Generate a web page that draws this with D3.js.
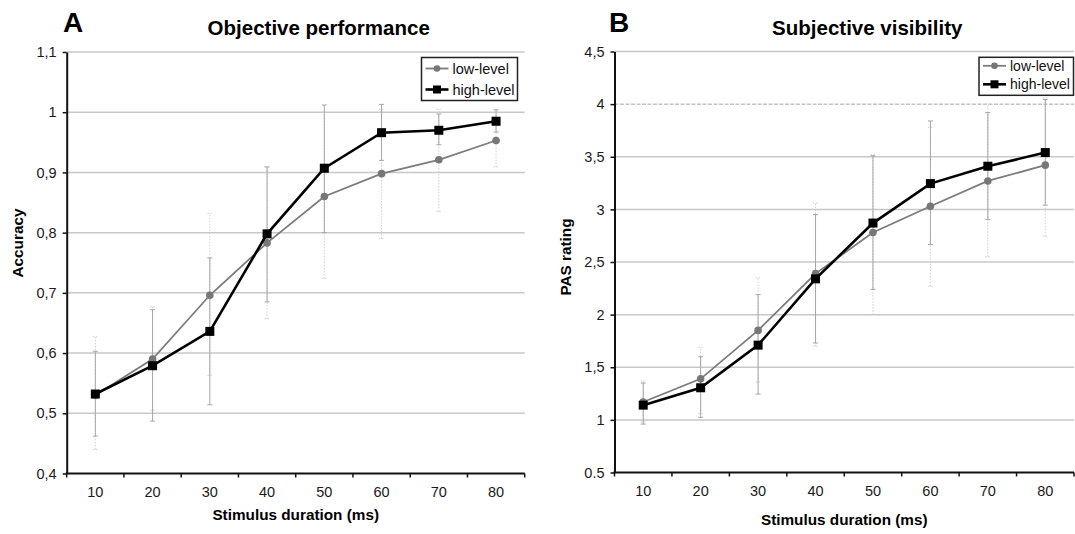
<!DOCTYPE html>
<html>
<head>
<meta charset="utf-8">
<script src="https://cdn.jsdelivr.net/npm/d3@7"></script>
<style>
  body { margin: 0; background: #fff; }
  svg { display: block; font-family: "Liberation Sans", Arial, sans-serif; }
</style>
</head>
<body>
<script>
// stimulus durations (ms)
var durations = [10, 20, 30, 40, 50, 60, 70, 80];

// panel A: accuracy
var accLow    = [0.530, 0.590, 0.696, 0.783, 0.860, 0.898, 0.921, 0.953];
var accLowLo  = [0.440, 0.505, 0.563, 0.657, 0.724, 0.790, 0.835, 0.909];
var accLowHi  = [0.627, 0.677, 0.832, 0.910, 1.000, 1.005, 1.005, 1.000];
var accHigh   = [0.532, 0.579, 0.636, 0.798, 0.907, 0.966, 0.970, 0.985];
var accHighLo = [0.462, 0.487, 0.514, 0.685, 0.800, 0.920, 0.946, 0.967];
var accHighHi = [0.603, 0.672, 0.758, 0.909, 1.012, 1.013, 0.997, 1.004];
var accTicks  = [0.4, 0.5, 0.6, 0.7, 0.8, 0.9, 1.0, 1.1];
var accLabels = ["0,4", "0,5", "0,6", "0,7", "0,8", "0,9", "1", "1,1"];

// panel B: PAS rating
var pasLow    = [1.17, 1.39, 1.85, 2.39, 2.78, 3.03, 3.27, 3.42];
var pasLowLo  = [0.98, 1.06, 1.36, 1.70, 2.00, 2.27, 2.55, 2.745];
var pasLowHi  = [1.37, 1.69, 2.35, 3.06, 3.52, 3.78, 4.00, 4.06];
var pasHigh   = [1.14, 1.305, 1.71, 2.34, 2.87, 3.245, 3.41, 3.54];
var pasHighLo = [0.96, 1.025, 1.245, 1.73, 2.24, 2.665, 2.905, 3.04];
var pasHighHi = [1.35, 1.60, 2.19, 2.95, 3.51, 3.84, 3.92, 4.045];
var pasTicks  = [0.5, 1, 1.5, 2, 2.5, 3, 3.5, 4, 4.5];
var pasLabels = ["0.5", "1", "1,5", "2", "2,5", "3", "3,5", "4", "4,5"];

var seriesNames = ["low-level", "high-level"];

var svg = d3.select("body").append("svg")
    .attr("width", 1075)
    .attr("height", 534);

function drawPanel(opt) {
    var g = svg.append("g");

    var x = d3.scaleBand()
        .domain(durations)
        .range([opt.left, opt.right])
        .padding(0);
    var y = d3.scaleLinear()
        .domain([opt.ticks[0], opt.ticks[opt.ticks.length - 1]])
        .range([opt.bottom, opt.top]);
    var cx = function(d) { return x(d) + x.bandwidth() / 2; };

    // gridlines
    g.append("g").selectAll("line")
        .data(opt.ticks.slice(1))
        .enter().append("line")
        .attr("x1", opt.left).attr("x2", opt.right)
        .attr("y1", function(d) { return y(d); })
        .attr("y2", function(d) { return y(d); })
        .attr("stroke", function(d) { return d === opt.dottedGrid ? "#c4c4c4" : "#c8c8c8"; })
        .attr("stroke-width", 1.5)
        .attr("stroke-dasharray", function(d) { return d === opt.dottedGrid ? "4,1.5" : null; });

    // y axis
    var yAxis = d3.axisLeft(y)
        .tickValues(opt.ticks)
        .tickFormat(function(d, i) { return opt.labels[i]; })
        .tickSizeInner(4)
        .tickSizeOuter(0)
        .tickPadding(6);
    var ya = g.append("g")
        .attr("transform", "translate(" + opt.left + ",0)")
        .call(yAxis);
    ya.select(".domain").attr("stroke", "#111").attr("stroke-width", 2);
    ya.selectAll(".tick line").attr("stroke", "#111").attr("stroke-width", 1.5);
    ya.selectAll("text").attr("font-size", 14.5).attr("fill", "#1a1a1a");

    // x axis: labels at band centres, ticks at band edges
    var xAxis = d3.axisBottom(x).tickSize(0).tickPadding(13);
    var xa = g.append("g")
        .attr("transform", "translate(0," + opt.bottom + ")")
        .call(xAxis);
    xa.select(".domain").remove();
    xa.selectAll("text").attr("font-size", 14.5).attr("fill", "#1a1a1a");
    g.append("line")
        .attr("x1", opt.left - 1).attr("x2", opt.right)
        .attr("y1", opt.bottom).attr("y2", opt.bottom)
        .attr("stroke", "#111").attr("stroke-width", 2);
    var edges = durations.map(function(d) { return x(d); }).concat([opt.right]);
    g.append("g").selectAll("line")
        .data(edges)
        .enter().append("line")
        .attr("x1", function(d) { return d; })
        .attr("x2", function(d) { return d; })
        .attr("y1", opt.bottom).attr("y2", opt.bottom + 4)
        .attr("stroke", "#111").attr("stroke-width", 1.5);

    // error bars
    function errorBars(lo, hi, color, dash) {
        var eb = g.append("g").selectAll("g")
            .data(durations)
            .enter().append("g")
            .attr("stroke", color)
            .attr("stroke-width", 1)
            .attr("stroke-dasharray", dash);
        eb.append("line")
            .attr("x1", cx).attr("x2", cx)
            .attr("y1", function(d, i) { return y(lo[i]); })
            .attr("y2", function(d, i) { return y(hi[i]); });
        eb.append("line")
            .attr("x1", function(d) { return cx(d) - 2.5; })
            .attr("x2", function(d) { return cx(d) + 2.5; })
            .attr("y1", function(d, i) { return y(lo[i]); })
            .attr("y2", function(d, i) { return y(lo[i]); })
            .attr("stroke-dasharray", null);
        eb.append("line")
            .attr("x1", function(d) { return cx(d) - 2.5; })
            .attr("x2", function(d) { return cx(d) + 2.5; })
            .attr("y1", function(d, i) { return y(hi[i]); })
            .attr("y2", function(d, i) { return y(hi[i]); })
            .attr("stroke-dasharray", null);
    }
    errorBars(opt.lowLo, opt.lowHi, "#cfcfcf", "1.5,1.5");
    errorBars(opt.highLo, opt.highHi, "#a6a6a6", null);

    var line = d3.line()
        .x(function(d) { return cx(d[0]); })
        .y(function(d) { return y(d[1]); });

    // low-level
    var lowPts = durations.map(function(d, i) { return [d, opt.low[i]]; });
    g.append("path")
        .datum(lowPts)
        .attr("d", line)
        .attr("fill", "none")
        .attr("stroke", "#7c7c7c")
        .attr("stroke-width", 1.8);
    g.append("g").selectAll("circle")
        .data(lowPts)
        .enter().append("circle")
        .attr("cx", function(d) { return cx(d[0]); })
        .attr("cy", function(d) { return y(d[1]); })
        .attr("r", 3.8)
        .attr("fill", "#777");

    // high-level
    var highPts = durations.map(function(d, i) { return [d, opt.high[i]]; });
    g.append("path")
        .datum(highPts)
        .attr("d", line)
        .attr("fill", "none")
        .attr("stroke", "#000")
        .attr("stroke-width", 2.6);
    g.append("g").selectAll("rect")
        .data(highPts)
        .enter().append("rect")
        .attr("x", function(d) { return cx(d[0]) - 4.5; })
        .attr("y", function(d) { return y(d[1]) - 4.5; })
        .attr("width", 9).attr("height", 9)
        .attr("fill", "#000");

    // legend
    var L = opt.legend;
    g.append("rect")
        .attr("x", L.x).attr("y", L.y)
        .attr("width", L.w).attr("height", L.h)
        .attr("fill", "#fff")
        .attr("stroke", "#222").attr("stroke-width", 1.5);
    seriesNames.forEach(function(name, i) {
        var ly = L.y + L.row0 + i * L.step;
        g.append("line")
            .attr("x1", L.x + 4).attr("x2", L.x + 27)
            .attr("y1", ly).attr("y2", ly)
            .attr("stroke", i === 0 ? "#7c7c7c" : "#000")
            .attr("stroke-width", i === 0 ? 1.8 : 2.6);
        if (i === 0) {
            g.append("circle").attr("cx", L.x + 15.5).attr("cy", ly).attr("r", 3.3).attr("fill", "#777");
        } else {
            g.append("rect").attr("x", L.x + 11.5).attr("y", ly - 4).attr("width", 8).attr("height", 8).attr("fill", "#000");
        }
        g.append("text")
            .attr("x", L.x + 31).attr("y", ly + 5)
            .attr("font-size", L.font)
            .attr("fill", "#111")
            .text(name);
    });

    // titles
    g.append("text")
        .attr("x", opt.letterX).attr("y", 32)
        .attr("font-size", 28).attr("font-weight", "bold")
        .text(opt.letter);
    g.append("text")
        .attr("x", (opt.left + opt.right) / 2 + 23).attr("y", 35)
        .attr("text-anchor", "middle")
        .attr("font-size", 20.5).attr("font-weight", "bold")
        .text(opt.title);
    g.append("text")
        .attr("x", (opt.left + opt.right) / 2).attr("y", opt.xTitleY)
        .attr("text-anchor", "middle")
        .attr("font-size", 15.3).attr("font-weight", "bold")
        .text("Stimulus duration (ms)");
    g.append("text")
        .attr("transform", "translate(" + opt.yTitleX + "," + opt.yTitleY + ") rotate(-90)")
        .attr("text-anchor", "middle")
        .attr("font-size", 15.3).attr("font-weight", "bold")
        .text(opt.yTitle);
}

drawPanel({
    left: 66.7, right: 524.7, top: 52, bottom: 473.5,
    ticks: accTicks, labels: accLabels, dottedGrid: null,
    low: accLow, lowLo: accLowLo, lowHi: accLowHi,
    high: accHigh, highLo: accHighLo, highHi: accHighHi,
    legend: { x: 421.5, y: 57.5, w: 96, h: 43, row0: 11, step: 21, font: 14.5 },
    letter: "A", letterX: 63, title: "Objective performance",
    xTitleY: 520, yTitle: "Accuracy", yTitleX: 23, yTitleY: 243
});

drawPanel({
    left: 614.5, right: 1074, top: 51.5, bottom: 472.5,
    ticks: pasTicks, labels: pasLabels, dottedGrid: 4,
    low: pasLow, lowLo: pasLowLo, lowHi: pasLowHi,
    high: pasHigh, highLo: pasHighLo, highHi: pasHighHi,
    legend: { x: 979, y: 57.3, w: 94.5, h: 38, row0: 8.5, step: 18.5, font: 14 },
    letter: "B", letterX: 609, title: "Subjective visibility",
    xTitleY: 525, yTitle: "PAS rating", yTitleX: 571, yTitleY: 257
});
</script>
</body>
</html>
